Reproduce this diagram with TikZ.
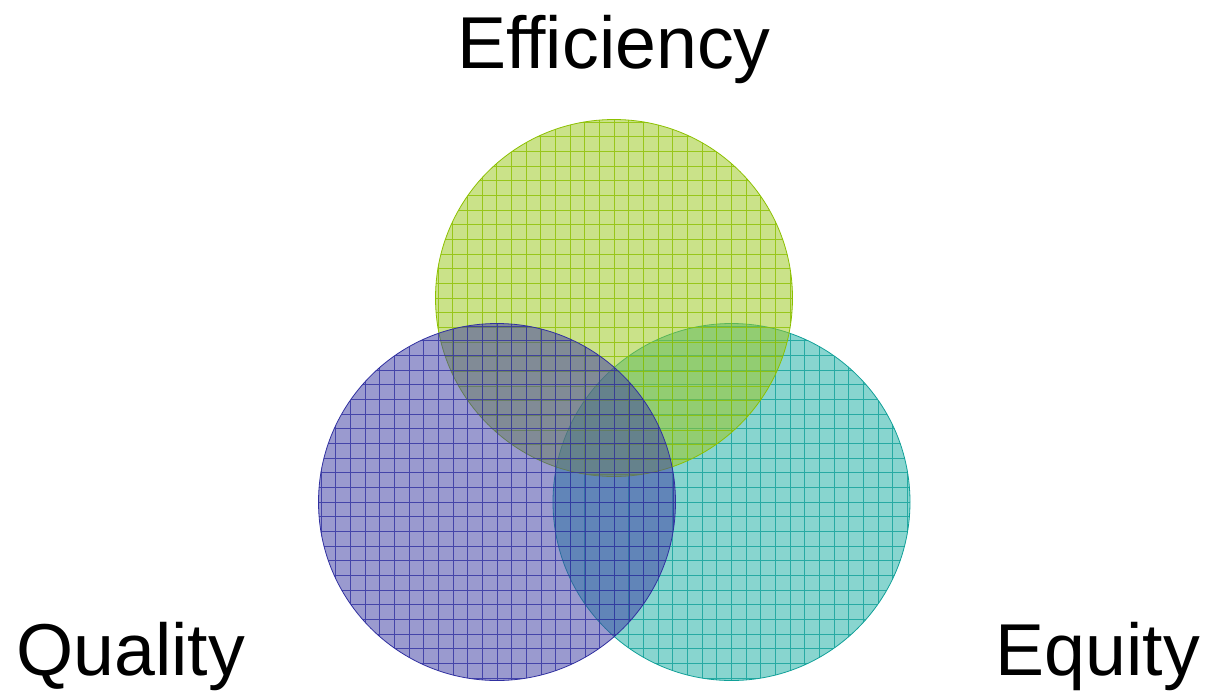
\documentclass[tikz,border=0pt]{standalone}
\usepackage{fontspec}
\setmainfont{Liberation Sans}
\usetikzlibrary{positioning}
\definecolor{effgreen}{HTML}{9BC820}
\definecolor{effgreenborder}{HTML}{8CC000}
\definecolor{qualblue}{HTML}{4040A4}
\definecolor{qualblueborder}{HTML}{3030A0}
\definecolor{equteal}{HTML}{1FAFA5}
\definecolor{equtealborder}{HTML}{10A098}

\begin{document}
\begin{tikzpicture}[x=1pt, y=-1pt,
      venn/.style 2 args={circle, inner sep=0pt, minimum size=357pt,
        fill=#1, fill opacity=0.53, draw=#2, line width=0.8pt,
        path picture={\draw[#2, draw opacity=0.8, line width=0.8pt, step=14.67pt]
          (path picture bounding box.south west) grid
          (path picture bounding box.north east);}},
      title/.style={inner sep=0pt, font=\fontsize{73.5}{80}\selectfont}
    ]
      \useasboundingbox (0,0) rectangle (1205,697);
      \node[venn={equteal}{equtealborder}] (equity) at (731.5,502) {};
      \node[venn={effgreen}{effgreenborder}] (efficiency) at (614,298) {};
      \node[venn={qualblue}{qualblueborder}] (quality) at (497,502) {};
      \node[title, anchor=base] (efftext) at (614,68) {Efficiency};
      \node[title, anchor=base west] (qualtext) at (16,675) {Quality};
      \node[title, anchor=base east] (equtext) at (1200,675) {Equity};
    \end{tikzpicture}
\end{document}
